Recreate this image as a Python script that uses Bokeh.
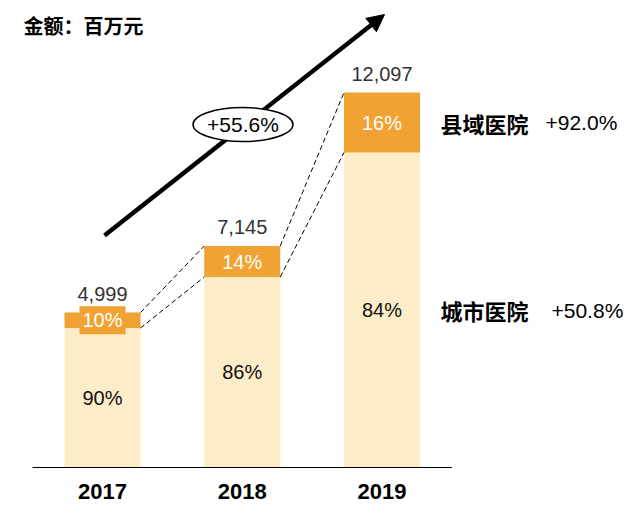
from bokeh.plotting import figure
from bokeh.models import Range1d, Arrow, NormalHead, ColumnDataSource
from bokeh.core.properties import value
from bokeh.embed import file_html
from bokeh.resources import INLINE

# ---- data ----
years = ["2017", "2018", "2019"]
totals = [4999, 7145, 12097]
city_share = [0.90, 0.86, 0.84]
county_share = [0.10, 0.14, 0.16]
total_labels = ["4,999", "7,145", "12,097"]
city_labels = ["90%", "86%", "84%"]
county_labels = ["10%", "14%", "16%"]
title_text = "金额：百万元"
cagr_text = "+55.6%"
series_names = ["县域医院", "城市医院"]
series_growth = ["+92.0%", "+50.8%"]

ORANGE = "#F0A232"
LIGHT = "#FCECC8"
LAT = "Liberation Sans"
CJK = "Noto Sans CJK SC"

W, H = 630, 512
x0_px, dx_px = 102.0, 139.75         # px of first bar centre, spacing
base_px = 467.0                      # px (from top) of baseline
k = 375.0 / max(totals)              # px per unit

def sx(px):   # x px -> data x
    return (px - x0_px) / dx_px

def sy(py):   # y px (from top) -> data y
    return (base_px - py) / k

p = figure(width=W, height=H, output_backend="svg", toolbar_location=None,
           x_range=Range1d(sx(0), sx(W)), y_range=Range1d(sy(H), sy(0)),
           min_border=0)
p.xaxis.visible = False
p.yaxis.visible = False
p.grid.visible = False
p.outline_line_color = None
p.background_fill_color = "white"

xs = list(range(len(years)))
city = [t * s for t, s in zip(totals, city_share)]
county = [t * s for t, s in zip(totals, county_share)]
bw = 76 / dx_px

src = ColumnDataSource(dict(
    x=xs, year=years, total=totals, city=city, county=county,
    city_mid=[c / 2 for c in city],
    county_mid=[c + q / 2 for c, q in zip(city, county)],
    tl=total_labels, cl=city_labels, ql=county_labels,
))

# arrow (underneath everything else)
p.add_layout(Arrow(end=NormalHead(size=17, fill_color="black", line_color="black"),
                   x_start=sx(104), y_start=sy(235), x_end=sx(384), y_end=sy(14),
                   line_width=4.5, line_color="black", level="underlay"))

p.vbar(x="x", bottom=0, top="city", width=bw, color=LIGHT, line_color=None, source=src)
p.vbar(x="x", bottom="city", top="total", width=bw, color=ORANGE, line_color=None, source=src)

# dashed connectors
sx0, sx1, sy0, sy1 = [], [], [], []
for i in range(len(years) - 1):
    for a, b in ((totals[i], totals[i + 1]), (city[i], city[i + 1])):
        sx0.append(i + bw / 2); sx1.append(i + 1 - bw / 2)
        sy0.append(a); sy1.append(b)
p.segment(x0=sx0, y0=sy0, x1=sx1, y1=sy1, line_color="black", line_width=1,
          line_dash="5 3")

# baseline axis line
p.segment(x0=[-0.5], y0=[0], x1=[len(years) - 0.5], y1=[0], line_color="black", line_width=1.2)

# labels
p.text(x="x", y=0, text="year", source=src, text_align="center", text_baseline="middle",
       y_offset=24, text_font=value(LAT), text_font_style="bold", text_font_size="22px",
       text_color="black")
p.text(x="x", y="city_mid", text="cl", source=src, text_align="center", text_baseline="middle",
       text_font=value(LAT), text_font_size="20px", text_color="#111111")
p.text(x="x", y="county_mid", text="ql", source=src, text_align="center", text_baseline="middle",
       text_font=value(LAT), text_font_size="20px", text_color="white",
       background_fill_color=ORANGE, padding=3)
p.text(x="x", y="total", text="tl", source=src, text_align="center", text_baseline="alphabetic",
       y_offset=-19, text_font=value(LAT), text_font_size="20px", text_color="#333333")

# right-side series labels
last = len(years) - 1
ys_right = [county[last] / 2 + city[last], city[last] / 2]
p.text(x=[sx(440)] * 2, y=ys_right, text=series_names, text_align="left", text_baseline="middle",
       text_font=value(CJK), text_font_style="bold", text_font_size="22px", text_color="black")
p.text(x=[sx(545), sx(551)], y=ys_right, text=series_growth, text_align="left",
       text_baseline="middle", text_font=value(LAT), text_font_size="21px", text_color="black")

# title
p.text(x=[sx(23)], y=[sy(25)], text=[title_text], text_align="left", text_baseline="middle",
       text_font=value(CJK), text_font_style="bold", text_font_size="20px", text_color="black")

# ellipse with CAGR
p.ellipse(x=[sx(242.5)], y=[sy(124)], width=100, height=34, width_units="screen",
          height_units="screen", fill_color="white", line_color="black", line_width=1.5)
p.text(x=[sx(242.5)], y=[sy(124)], text=[cagr_text], text_align="center", text_baseline="middle",
       text_font=value(LAT), text_font_size="21px", text_color="black")

open("out.html", "w").write(file_html(p, INLINE))
